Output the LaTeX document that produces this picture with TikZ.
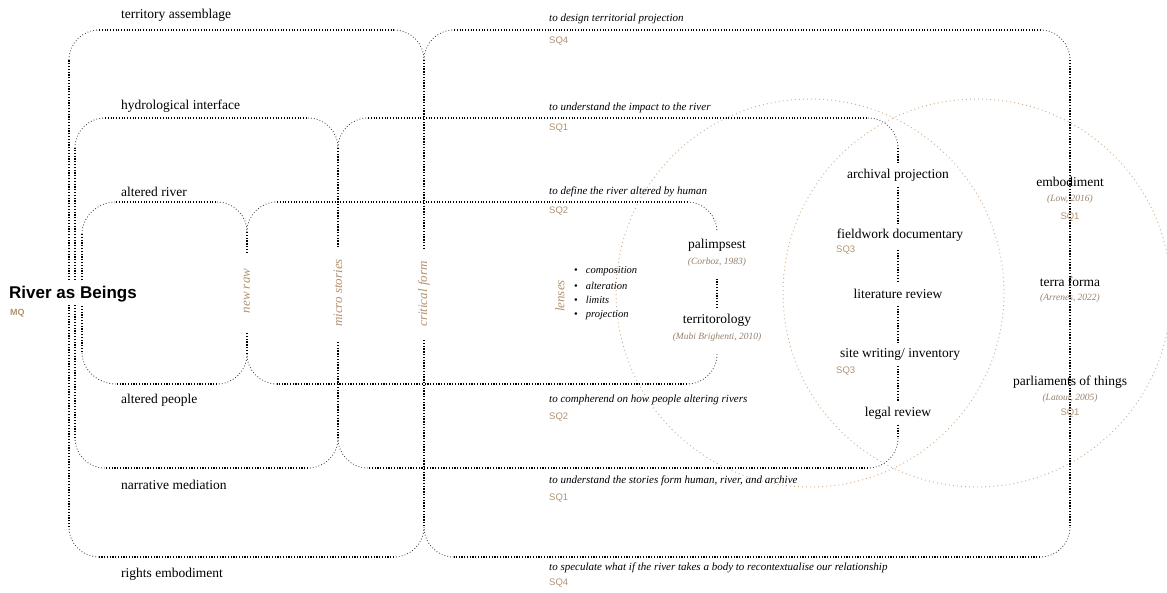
\documentclass[tikz,border=0pt]{standalone}
\usepackage{fontspec}
\setmainfont{Liberation Serif}
\setsansfont{Liberation Sans}
\definecolor{tan}{RGB}{178,146,112}
\definecolor{reftan}{RGB}{150,128,106}
\definecolor{circ}{RGB}{205,176,146}
\begin{document}
\begin{tikzpicture}[x=1pt,y=-1pt,
  hl/.style={line width=1.15pt, dash pattern=on 1.15pt off 1.6pt},
  vl/.style={line width=1.5pt, dash pattern=on 1.3pt off 1.5pt},
  cv/.style={line width=0.85pt, dash pattern=on 0.85pt off 2.1pt, black!75},
  ring/.style={circ, line width=0.95pt, dash pattern=on 0.95pt off 3.1pt},
  lab/.style={font=\fontsize{13.5}{15}\selectfont, inner sep=0pt, anchor=west},
  qq/.style={font=\fontsize{11}{13}\selectfont\itshape, inner sep=0pt, anchor=west},
  sq/.style={font=\sffamily\fontsize{9.5}{11}\selectfont, text=tan, inner sep=0pt, anchor=west},
  rot/.style={font=\fontsize{13}{15}\selectfont\itshape, text=tan, rotate=90, inner sep=0pt},
  mid/.style={font=\fontsize{13.5}{15}\selectfont, inner sep=0pt, minimum height=23pt},
  refn/.style={font=\fontsize{9.5}{11}\selectfont\itshape, text=reftan, inner sep=0pt},
  sqc/.style={font=\sffamily\fontsize{9.5}{11}\selectfont, text=tan, inner sep=0pt},
  bul/.style={font=\fontsize{10.5}{12}\selectfont, inner sep=0pt, anchor=west}
]
\useasboundingbox (0,0) rectangle (1167,592);

% Venn circles
\draw[ring] (810,293) circle[radius=194];
\draw[ring] (977,293) circle[radius=194];

% ---------- level 1 ----------
\draw[cv] (69,60) .. controls (69,43.4) and (82.4,30) .. (99,30);
\draw[hl] (99,30) -- (394,30);
\draw[cv] (394,30) .. controls (410.6,30) and (424,43.4) .. (424,60) .. controls (424,43.4) and (437.4,30) .. (454,30);
\draw[hl] (454,30) -- (1040,30);
\draw[cv] (1040,30) .. controls (1056.6,30) and (1070,43.4) .. (1070,60);
\draw[vl] (1070,60) -- (1070,527);
\draw[cv] (1070,527) .. controls (1070,543.6) and (1056.6,557) .. (1040,557);
\draw[hl] (1040,557) -- (454,557);
\draw[cv] (454,557) .. controls (437.4,557) and (424,543.6) .. (424,527) .. controls (424,543.6) and (410.6,557) .. (394,557);
\draw[hl] (394,557) -- (99,557);
\draw[cv] (99,557) .. controls (82.4,557) and (69,543.6) .. (69,527);
\draw[vl] (69,527) -- (69,305) (69,280) -- (69,60);
\draw[vl] (424,60) -- (424,250) (424,340) -- (424,527);

% ---------- level 2 ----------
\coordinate (c2t) at (898,148);
\coordinate (c2b) at (898,438);
\draw[cv] (75,148) .. controls (75,131.4) and (88.4,118) .. (105,118);
\draw[hl] (105,118) -- (308,118);
\draw[cv] (308,118) .. controls (324.6,118) and (338,131.4) .. (338,148) .. controls (338,131.4) and (351.4,118) .. (368,118);
\draw[hl] (368,118) -- (868,118);
\draw[cv] (868,118) .. controls (884.6,118) and (898,131.4) .. (c2t);
\draw[cv] (c2b) .. controls (898,454.6) and (884.6,468) .. (868,468);
\draw[hl] (868,468) -- (368,468);
\draw[cv] (368,468) .. controls (351.4,468) and (338,454.6) .. (338,438) .. controls (338,454.6) and (324.6,468) .. (308,468);
\draw[hl] (308,468) -- (105,468);
\draw[cv] (105,468) .. controls (88.4,468) and (75,454.6) .. (75,438);
\draw[vl] (75,438) -- (75,305) (75,280) -- (75,148);
\draw[vl] (338,148) -- (338,247) (338,342) -- (338,438);

% ---------- level 3 ----------
\coordinate (c3t) at (717,232);
\coordinate (c3b) at (717,354);
\draw[cv] (82,234) .. controls (82,216.3) and (97.7,202) .. (116,202);
\draw[hl] (116,202) -- (217,202);
\draw[cv] (217,202) .. controls (233.6,202) and (247,215.4) .. (247,232) .. controls (247,215.4) and (260.4,202) .. (277,202);
\draw[hl] (277,202) -- (687,202);
\draw[cv] (687,202) .. controls (703.6,202) and (717,215.4) .. (c3t);
\draw[cv] (c3b) .. controls (717,370.6) and (703.6,384) .. (687,384);
\draw[hl] (687,384) -- (277,384);
\draw[cv] (277,384) .. controls (260.4,384) and (247,370.6) .. (247,354) .. controls (247,370.6) and (233.6,384) .. (217,384);
\draw[hl] (217,384) -- (116,384);
\draw[cv] (116,384) .. controls (97.7,384) and (82,369.7) .. (82,352);
\draw[vl] (82,352) -- (82,305) (82,280) -- (82,234);
\draw[vl] (247,232) -- (247,253) (247,333) -- (247,354);

% ---------- title ----------
\node[anchor=west, inner sep=0pt, font=\sffamily\bfseries\fontsize{17}{19}\selectfont] (title) at (9,294) {River as Beings};
\node[sq, font=\sffamily\bfseries\fontsize{9}{10}\selectfont] (mq) at (10,313) {MQ};

% ---------- left labels ----------
\node[lab] (la1) at (121,15) {territory assemblage};
\node[lab] (la2) at (121,106) {hydrological interface};
\node[lab] (la3) at (121,192) {altered river};
\node[lab] (la4) at (121,400) {altered people};
\node[lab] (la5) at (121,485) {narrative mediation};
\node[lab] (la6) at (121,574) {rights embodiment};

% ---------- rotated labels ----------
\node[rot] (newraw) at (247,291) {new raw};
\node[rot] (micro) at (338,293) {micro stories};
\node[rot] (crit) at (424,294) {critical form};
\node[rot] (lenses) at (560,296) {lenses};

% ---------- questions ----------
\node[qq] (q1) at (549,19) {to design territorial projection};
\node[sq] (s1) at (549,41) {SQ4};
\node[qq] (q2) at (549,108) {to understand the impact to the river};
\node[sq] (s2) at (549,128) {SQ1};
\node[qq] (q3) at (549,192) {to define the river altered by human};
\node[sq] (s3) at (549,211) {SQ2};
\node[qq] (q4) at (549,400) {to compherend on how people altering rivers};
\node[sq] (s4) at (549,417) {SQ2};
\node[qq] (q5) at (549,481) {to understand the stories form human, river, and archive};
\node[sq] (s5) at (549,498) {SQ1};
\node[qq] (q6) at (549,568) {to speculate what if the river takes a body to recontextualise our relationship};
\node[sq] (s6) at (549,583) {SQ4};

% ---------- lenses list ----------
\node[bul] (b1) at (574,271) {\textbullet\hspace{8pt}\textit{composition}};
\node[bul] (b2) at (574,286) {\textbullet\hspace{8pt}\textit{alteration}};
\node[bul] (b3) at (574,300) {\textbullet\hspace{8pt}\textit{limits}};
\node[bul] (b4) at (574,315) {\textbullet\hspace{8pt}\textit{projection}};

% ---------- palimpsest column ----------
\node[mid] (palimp) at (717,245) {palimpsest};
\node[refn] (corboz) at (717,262) {(Corboz, 1983)};
\node[mid] (territ) at (717,320) {territorology};
\node[refn] (mubi) at (717,337) {(Mubi Brighenti, 2010)};
\draw[vl, shorten <=12pt] (corboz.south) -- (territ.north);

% ---------- archive column ----------
\node[mid] (arch) at (898,175) {archival projection};
\node[mid] (field) at (900,235) {fieldwork documentary};
\node[sq] (sq3a) at (836,250) {SQ3};
\node[mid] (lit) at (898,294) {literature review};
\node[mid] (site) at (900,354) {site writing/ inventory};
\node[sq] (sq3b) at (836,371) {SQ3};
\node[mid] (legal) at (898,413) {legal review};
\draw[vl] (c2t) -- (c2t |- arch.north);
\draw[vl] (c2t |- arch.south) -- (c2t |- field.north);
\draw[vl, shorten <=3pt] (c2t |- field.south) -- (c2t |- lit.north);
\draw[vl] (c2t |- lit.south) -- (c2t |- site.north);
\draw[vl] (c2t |- site.south) -- (c2t |- legal.north);
\draw[vl] (c2t |- legal.south) -- (c2b);

% ---------- embodiment column ----------
\node[mid] (embod) at (1070,182) {embodiment};
\node[refn] (low) at (1070,199) {(Low, 2016)};
\node[sqc] (sq1a) at (1070,217) {SQ1};
\node[mid] (terra) at (1070,282) {terra forma};
\node[refn] (arr) at (1070,298) {(Arrenes, 2022)};
\node[mid] (parl) at (1070,382) {parliaments of things};
\node[refn] (lat) at (1070,398) {(Latour, 2005)};
\node[sqc] (sq1b) at (1070,413) {SQ1};
\end{tikzpicture}
\end{document}
